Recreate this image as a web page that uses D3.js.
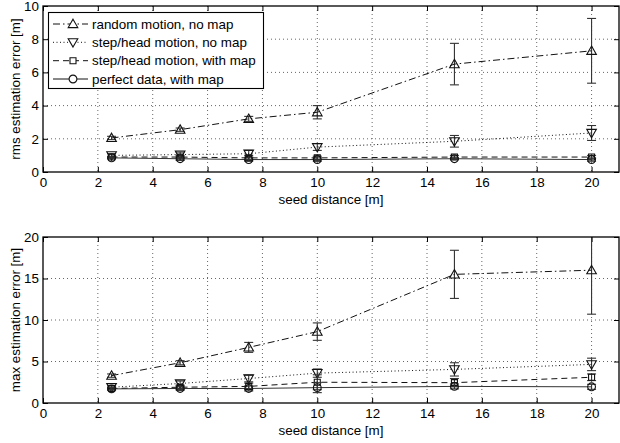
<!DOCTYPE html>
<html>
<head>
<meta charset="utf-8">
<script src="https://cdn.jsdelivr.net/npm/d3@7"></script>
<style>
  html, body { margin: 0; padding: 0; background: #fff; }
  svg { display: block; }
  text { font-family: "Liberation Sans", Arial, Helvetica, sans-serif; fill: #000; }
</style>
</head>
<body>
<svg id="chart" width="620" height="443"></svg>
<script>
// Seed distances [m]
const seedDistance = [2.5, 5, 7.5, 10, 15, 20];

// Series names (legend order)
const seriesNames = [
  "random motion, no map",
  "step/head motion, no map",
  "step/head motion, with map",
  "perfect data, with map"
];

// RMS estimation error [m]: means and error-bar half widths
const rmsRandom        = [2.05, 2.55, 3.2, 3.6, 6.5, 7.3];
const rmsRandomErr     = [0.1, 0.1, 0.15, 0.4, 1.25, 1.95];
const rmsStepNoMap     = [1.0, 1.05, 1.1, 1.5, 1.85, 2.35];
const rmsStepNoMapErr  = [0.1, 0.15, 0.2, 0.2, 0.35, 0.45];
const rmsStepMap       = [0.9, 0.9, 0.85, 0.85, 0.9, 0.9];
const rmsStepMapErr    = [0.05, 0.1, 0.15, 0.1, 0.1, 0.1];
const rmsPerfect       = [0.85, 0.8, 0.75, 0.75, 0.8, 0.75];
const rmsPerfectErr    = [0.05, 0.1, 0.1, 0.1, 0.05, 0.1];

// Max estimation error [m]: means and error-bar half widths
const maxRandom        = [3.3, 4.85, 6.7, 8.6, 15.5, 16.0];
const maxRandomErr     = [0.2, 0.25, 0.6, 1.05, 2.9, 5.3];
const maxStepNoMap     = [1.9, 2.35, 2.95, 3.6, 4.05, 4.65];
const maxStepNoMapErr  = [0.15, 0.3, 0.4, 0.5, 0.8, 0.75];
const maxStepMap       = [1.75, 1.9, 2.0, 2.5, 2.45, 3.1];
const maxStepMapErr    = [0.15, 0.25, 0.4, 0.9, 0.5, 0.4];
const maxPerfect       = [1.7, 1.75, 1.75, 1.85, 2.0, 1.95];
const maxPerfectErr    = [0.15, 0.2, 0.3, 0.6, 0.3, 0.3];

// Tick labels
const xTicks = [0, 2, 4, 6, 8, 10, 12, 14, 16, 18, 20];
const rmsTicks = [0, 2, 4, 6, 8, 10];
const maxTicks = [0, 5, 10, 15, 20];

// Line styles per series
const styles = [
  { dash: "7,3,1.5,3", marker: "triUp" },
  { dash: "1,2.5",     marker: "triDown" },
  { dash: "6,4",       marker: "square" },
  { dash: null,        marker: "circle" }
];

const FS = 13.4;
const svg = d3.select("#chart");
const X0 = 43, X1 = 619;
const x = d3.scaleLinear().domain([0, 21]).range([X0, X1]);

function markerPath(type) {
  const s = 4.8;
  if (type === "triUp") return `M0,${-s}L${s},${s * 0.75}L${-s},${s * 0.75}Z`;
  if (type === "triDown") return `M0,${s}L${s},${-s * 0.75}L${-s},${-s * 0.75}Z`;
  if (type === "square") return `M-3,-3H3V3H-3Z`;
  return d3.arc()({ innerRadius: 0, outerRadius: 3.9, startAngle: 0, endAngle: 2 * Math.PI });
}

function drawPanel(top, bottom, yMax, yTicks, yLabel, series, clipId) {
  const y = d3.scaleLinear().domain([0, yMax]).range([bottom, top]);
  const g = svg.append("g");

  svg.append("defs").append("clipPath").attr("id", clipId)
    .append("rect").attr("x", X0).attr("y", top).attr("width", X1 - X0).attr("height", bottom - top);

  // dotted grid
  const grid = g.append("g").attr("stroke", "#000").attr("stroke-width", 0.8)
    .attr("stroke-dasharray", "1,3").attr("opacity", 0.75);
  xTicks.filter(t => t > 0).forEach(t => {
    grid.append("line").attr("x1", x(t)).attr("x2", x(t)).attr("y1", top).attr("y2", bottom);
  });
  yTicks.filter(t => t > 0 && t < yMax).forEach(t => {
    grid.append("line").attr("x1", X0).attr("x2", X1).attr("y1", y(t)).attr("y2", y(t));
  });

  // axes with inward ticks on all four sides
  const axB = d3.axisBottom(x).tickValues(xTicks).tickSize(-5).tickPadding(5).tickFormat(d3.format("d"));
  const axT = d3.axisTop(x).tickValues(xTicks).tickSize(-5).tickFormat("");
  const axL = d3.axisLeft(y).tickValues(yTicks).tickSize(-5).tickPadding(4).tickFormat(d3.format("d"));
  const axR = d3.axisRight(y).tickValues(yTicks).tickSize(-5).tickFormat("");

  const styleAxis = sel => {
    sel.select(".domain").remove();
    sel.selectAll("line").attr("stroke", "#000").attr("stroke-width", 1);
    sel.selectAll("text").attr("font-size", FS).attr("font-family", "Liberation Sans, Arial, sans-serif").attr("fill", "#000");
  };
  g.append("g").attr("transform", `translate(0,${bottom})`).call(axB).call(styleAxis);
  g.append("g").attr("transform", `translate(0,${top})`).call(axT).call(styleAxis);
  g.append("g").attr("transform", `translate(${X0},0)`).call(axL).call(styleAxis);
  g.append("g").attr("transform", `translate(${X1},0)`).call(axR).call(styleAxis);

  // series
  const plot = g.append("g").attr("clip-path", `url(#${clipId})`);
  const line = d3.line().x(d => x(d.x)).y(d => y(d.y));
  series.forEach((s, i) => {
    const pts = seedDistance.map((d, k) => ({ x: d, y: s.mean[k], e: s.err[k] }));
    const st = styles[i];
    // error bars
    const eb = plot.append("g").attr("stroke", "#333").attr("stroke-width", 1.1);
    pts.forEach(p => {
      const cx = x(p.x), yl = y(p.y - p.e), yh = y(p.y + p.e);
      eb.append("line").attr("x1", cx).attr("x2", cx).attr("y1", yl).attr("y2", yh);
      eb.append("line").attr("x1", cx - 4.5).attr("x2", cx + 4.5).attr("y1", yl).attr("y2", yl);
      eb.append("line").attr("x1", cx - 4.5).attr("x2", cx + 4.5).attr("y1", yh).attr("y2", yh);
    });
    plot.append("path").datum(pts).attr("d", line).attr("fill", "none")
      .attr("stroke", i === 3 ? "#333" : "#111").attr("stroke-width", 1)
      .attr("stroke-dasharray", st.dash);
    plot.append("g").selectAll("path").data(pts).join("path")
      .attr("transform", p => `translate(${x(p.x)},${y(p.y)})`)
      .attr("d", markerPath(st.marker))
      .attr("fill", "none").attr("stroke", "#111").attr("stroke-width", 1.1);
  });

  // frame
  g.append("rect").attr("x", X0).attr("y", top).attr("width", X1 - X0).attr("height", bottom - top)
    .attr("fill", "none").attr("stroke", "#000").attr("stroke-width", 1.3);

  // axis titles
  g.append("text").attr("x", (X0 + X1) / 2).attr("y", bottom + 32)
    .attr("text-anchor", "middle").attr("font-size", FS).text("seed distance [m]");
  g.append("text").attr("transform", `translate(20,${(top + bottom) / 2}) rotate(-90)`)
    .attr("text-anchor", "middle").attr("font-size", FS).text(yLabel);

  return y;
}

drawPanel(6, 172, 10, rmsTicks, "rms estimation error [m]", [
  { mean: rmsRandom, err: rmsRandomErr },
  { mean: rmsStepNoMap, err: rmsStepNoMapErr },
  { mean: rmsStepMap, err: rmsStepMapErr },
  { mean: rmsPerfect, err: rmsPerfectErr }
], "clipRms");

drawPanel(237, 403, 20, maxTicks, "max estimation error [m]", [
  { mean: maxRandom, err: maxRandomErr },
  { mean: maxStepNoMap, err: maxStepNoMapErr },
  { mean: maxStepMap, err: maxStepMapErr },
  { mean: maxPerfect, err: maxPerfectErr }
], "clipMax");

// legend in the upper panel
const lg = svg.append("g");
lg.append("rect").attr("x", 48.5).attr("y", 12.5).attr("width", 215).attr("height", 76)
  .attr("fill", "#fff").attr("stroke", "#000").attr("stroke-width", 1.1);
const rowY = [24, 42.3, 60.7, 79];
seriesNames.forEach((name, i) => {
  const st = styles[i];
  lg.append("line").attr("x1", 53).attr("x2", 88).attr("y1", rowY[i]).attr("y2", rowY[i])
    .attr("stroke", "#111").attr("stroke-width", 1).attr("stroke-dasharray", st.dash);
  lg.append("path").attr("transform", `translate(73,${rowY[i]})`).attr("d", markerPath(st.marker))
    .attr("fill", "#fff").attr("stroke", "#111").attr("stroke-width", 1.1);
  lg.append("text").attr("x", 92).attr("y", rowY[i]).attr("dy", "0.35em")
    .attr("font-size", FS).text(name);
});
</script>
</body>
</html>
